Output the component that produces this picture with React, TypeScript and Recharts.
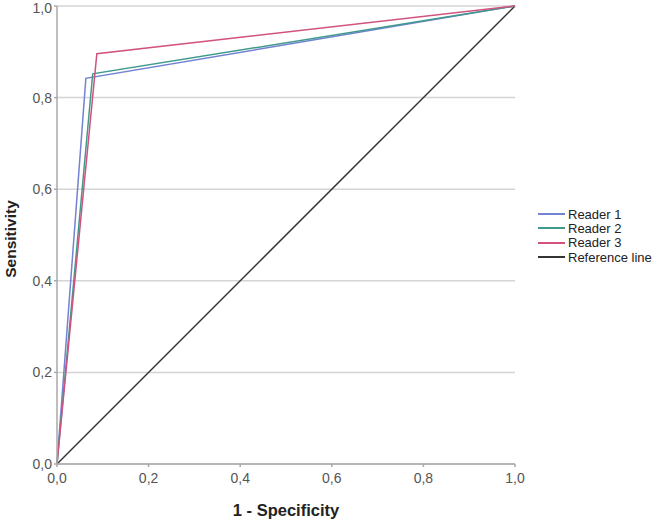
import React from 'react';
import { LineChart, Line, XAxis, YAxis, CartesianGrid, Label } from 'recharts';

const seriesNames = ['Reader 1', 'Reader 2', 'Reader 3', 'Reference line'];
const seriesColors = ['#7382d2', '#3f9a8c', '#d2527e', '#333333'];
const reader1X = [0, 0.063, 1];
const reader1Y = [0, 0.842, 1];
const reader2X = [0, 0.078, 1];
const reader2Y = [0, 0.852, 1];
const reader3X = [0, 0.087, 1];
const reader3Y = [0, 0.896, 1];
const refX = [0, 1];
const refY = [0, 1];
const ticks = [0, 0.2, 0.4, 0.6, 0.8, 1.0];

const toPts = (xs: number[], ys: number[]) => xs.map((x, i) => ({ x, y: ys[i] }));
const series = [
  toPts(reader1X, reader1Y),
  toPts(reader2X, reader2Y),
  toPts(reader3X, reader3Y),
  toPts(refX, refY),
];

const fmt = (v: number) => v.toFixed(1).replace('.', ',');
const FONT = '"Liberation Sans", Arial, sans-serif';

export default function App() {
  return (
    <div style={{ position: 'absolute', left: 0, top: 0, width: 657, height: 523, fontFamily: FONT }}>
      <LineChart width={657} height={523} margin={{ top: 6, right: 142, bottom: 0, left: 0 }}>
        <CartesianGrid vertical={false} stroke="#d4d4d4" strokeWidth={1.5} />
        <XAxis
          type="number"
          dataKey="x"
          domain={[0, 1]}
          ticks={ticks}
          tickFormatter={fmt}
          height={59}
          tickSize={3}
          tickMargin={6}
          stroke="#a8a8a8"
          strokeWidth={1.5}
          tick={{ fill: '#555', fontSize: 14, fontFamily: FONT }}
          allowDuplicatedCategory={false}
        >
          <Label
            content={() => (
              <text x={286} y={516} textAnchor="middle" fontSize={16.5} fontWeight="bold" fill="#222" fontFamily={FONT}>
                1 - Specificity
              </text>
            )}
          />
        </XAxis>
        <YAxis
          type="number"
          dataKey="y"
          domain={[0, 1]}
          ticks={ticks}
          tickFormatter={fmt}
          width={57}
          tickSize={3}
          tickMargin={2}
          stroke="#a8a8a8"
          strokeWidth={1.5}
          tick={{ fill: '#555', fontSize: 14, fontFamily: FONT }}
        >
          <Label
            content={() => (
              <text x={16} y={239} textAnchor="middle" transform="rotate(-90 16 239)" fontSize={15.5} fontWeight="bold" fill="#222" fontFamily={FONT}>
                Sensitivity
              </text>
            )}
          />
        </YAxis>
        {[3, 0, 1, 2].map((i) => (
          <Line
            key={seriesNames[i]}
            data={series[i]}
            dataKey="y"
            name={seriesNames[i]}
            stroke={seriesColors[i]}
            strokeWidth={1.5}
            dot={false}
            activeDot={false}
            type="linear"
            isAnimationActive={false}
          />
        ))}
      </LineChart>
      <div style={{ position: 'absolute', left: 538, top: 207 }}>
        {seriesNames.map((n, i) => (
          <div key={n} style={{ display: 'flex', alignItems: 'center', height: 14.3, fontSize: 13, color: '#222', whiteSpace: 'nowrap' }}>
            <span style={{ display: 'inline-block', width: 27, height: 0, borderTop: `2px solid ${seriesColors[i]}`, marginRight: 3 }} />
            <span>{n}</span>
          </div>
        ))}
      </div>
    </div>
  );
}
